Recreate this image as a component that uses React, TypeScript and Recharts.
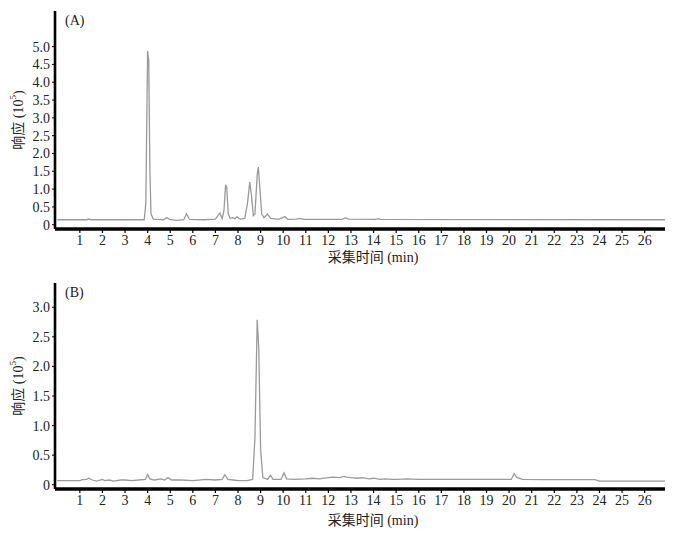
import React from 'react';
import { LineChart, Line, XAxis, YAxis, Label } from 'recharts';

const xTicks = [1, 2, 3, 4, 5, 6, 7, 8, 9, 10, 11, 12, 13, 14, 15, 16, 17, 18, 19, 20, 21, 22, 23, 24, 25, 26];
const yTicksA = [0, 0.5, 1.0, 1.5, 2.0, 2.5, 3.0, 3.5, 4.0, 4.5, 5.0];
const yTicksB = [0, 0.5, 1.0, 1.5, 2.0, 2.5, 3.0];

const timesA = [0, 1.3, 1.4, 1.5, 3.85, 3.92, 4.0, 4.05, 4.1, 4.15, 4.25, 4.7, 4.85, 5.0, 5.3, 5.6, 5.72, 5.85, 6.5, 7.0, 7.2, 7.3, 7.38, 7.45, 7.5, 7.57, 7.65, 7.76, 7.85, 7.95, 8.1, 8.3, 8.42, 8.52, 8.6, 8.68, 8.75, 8.85, 8.9, 8.97, 9.05, 9.15, 9.3, 9.45, 9.8, 10.08, 10.2, 10.6, 10.75, 10.9, 12.6, 12.75, 12.9, 14.1, 14.2, 14.3, 26.9];
const respA = [0.14, 0.14, 0.16, 0.14, 0.14, 0.6, 4.88, 4.6, 1.5, 0.3, 0.16, 0.14, 0.2, 0.14, 0.12, 0.14, 0.31, 0.15, 0.14, 0.16, 0.33, 0.17, 0.4, 1.12, 1.05, 0.3, 0.18, 0.2, 0.17, 0.22, 0.16, 0.18, 0.6, 1.2, 0.8, 0.25, 0.3, 1.4, 1.62, 1.0, 0.3, 0.2, 0.3, 0.18, 0.15, 0.23, 0.15, 0.16, 0.18, 0.15, 0.15, 0.19, 0.16, 0.15, 0.17, 0.15, 0.14];

const timesB = [0, 1.0, 1.1, 1.3, 1.4, 1.55, 1.75, 1.9, 2.0, 2.1, 2.3, 2.5, 2.8, 3.0, 3.3, 3.6, 3.9, 4.0, 4.1, 4.3, 4.6, 4.75, 4.9, 5.05, 5.5, 6.0, 6.6, 7.0, 7.3, 7.42, 7.55, 7.8, 8.0, 8.4, 8.65, 8.75, 8.85, 8.92, 9.0, 9.1, 9.3, 9.44, 9.55, 9.9, 10.04, 10.15, 10.5, 11.0, 11.3, 11.6, 12.0, 12.2, 12.5, 12.7, 12.8, 13.0, 13.3, 13.5, 13.8, 14.0, 14.3, 14.5, 14.8, 15.0, 15.5, 16.0, 17.0, 18.0, 19.0, 19.5, 20.1, 20.22, 20.35, 20.6, 21.5, 23.0, 23.8, 24.0, 26.9];
const respB = [0.07, 0.07, 0.085, 0.09, 0.11, 0.08, 0.06, 0.08, 0.09, 0.07, 0.08, 0.06, 0.08, 0.08, 0.07, 0.08, 0.09, 0.17, 0.1, 0.08, 0.1, 0.08, 0.12, 0.08, 0.08, 0.07, 0.09, 0.08, 0.09, 0.17, 0.09, 0.08, 0.07, 0.07, 0.09, 0.8, 2.79, 2.3, 0.6, 0.12, 0.09, 0.16, 0.09, 0.09, 0.2, 0.1, 0.09, 0.1, 0.11, 0.1, 0.12, 0.13, 0.12, 0.14, 0.13, 0.12, 0.11, 0.12, 0.1, 0.11, 0.09, 0.1, 0.09, 0.09, 0.1, 0.09, 0.09, 0.09, 0.09, 0.09, 0.09, 0.19, 0.12, 0.09, 0.085, 0.085, 0.085, 0.06, 0.06];

const dataA = timesA.map((t, i) => ({ t, v: respA[i] }));
const dataB = timesB.map((t, i) => ({ t, v: respB[i] }));

const FONT = 'Liberation Serif, DejaVu Serif, serif';
const CJK_FONT = 'Liberation Serif, Noto Sans CJK SC, serif';
const TXT = '#222';

const fmtY = (v: number) => (v === 0 ? '0' : v.toFixed(1));

type PanelProps = {
  data: { t: number; v: number }[];
  yDomain: [number, number];
  yTicks: number[];
  height: number;
  top: number;
  marginTop: number;
  xAxisHeight: number;
  xLabelOffset: number;
  letter: string;
};

const Panel = ({ data, yDomain, yTicks, height, top, marginTop, xAxisHeight, xLabelOffset, letter }: PanelProps) => (
  <div style={{ position: 'absolute', left: 0, top, width: 675, height }}>
    <LineChart
      width={675}
      height={height}
      data={data}
      margin={{ top: marginTop, right: 10, left: 0, bottom: 0 }}
      style={{ fontFamily: FONT }}
    >
      <XAxis
        dataKey="t"
        type="number"
        domain={[-0.1, 26.9]}
        ticks={xTicks}
        allowDataOverflow
        height={xAxisHeight}
        axisLine={{ stroke: '#000', strokeWidth: 3.5 }}
        tickLine={{ stroke: '#000', strokeWidth: 1.2 }}
        tickSize={4}
        tickMargin={2}
        tick={{ fill: TXT, fontSize: 14, fontFamily: FONT }}
        interval={0}
      >
        <Label
          content={(props: any) => {
            const vb = props.viewBox || {};
            return (
              <text
                x={vb.x + vb.width / 2 + 13}
                y={vb.y + xLabelOffset}
                textAnchor="middle"
                dominantBaseline="central"
                fill={TXT}
                fontSize={14}
                fontFamily={CJK_FONT}
              >
                采集时间 (min)
              </text>
            );
          }}
        />
      </XAxis>
      <YAxis
        type="number"
        domain={yDomain}
        ticks={yTicks}
        allowDataOverflow
        width={55}
        axisLine={{ stroke: '#000', strokeWidth: 2.6 }}
        tickLine={{ stroke: '#000', strokeWidth: 1 }}
        tickSize={3}
        tickMargin={2}
        tickFormatter={fmtY}
        tick={{ fill: TXT, fontSize: 14, fontFamily: FONT }}
        interval={0}
      >
        <Label
          content={(props: any) => {
            const vb = props.viewBox || {};
            const cx = 18;
            const cy = vb.y + vb.height / 2;
            return (
              <text
                x={cx}
                y={cy}
                transform={`rotate(-90 ${cx} ${cy})`}
                textAnchor="middle"
                dominantBaseline="central"
                fill={TXT}
                fontSize={14}
                fontFamily={CJK_FONT}
              >
                响应 (10
                <tspan dy={-5} fontSize={9}>5</tspan>
                <tspan dy={5}>)</tspan>
              </text>
            );
          }}
        />
      </YAxis>
      <Line
        type="linear"
        dataKey="v"
        stroke="#9a9a9a"
        strokeWidth={1.3}
        dot={false}
        isAnimationActive={false}
      />
    </LineChart>
    <div
      style={{
        position: 'absolute',
        left: 65,
        top: marginTop + 2,
        fontFamily: FONT,
        fontSize: 14,
        color: TXT,
        lineHeight: '16px',
      }}
    >
      {letter}
    </div>
  </div>
);

export default function App() {
  return (
    <div
      style={{
        position: 'absolute',
        left: 0,
        top: 0,
        width: 675,
        height: 533,
        overflow: 'hidden',
        background: '#fff',
      }}
    >
      <Panel
        data={dataA}
        yDomain={[-0.12, 6.0]}
        yTicks={yTicksA}
        height={270}
        top={0}
        marginTop={11}
        xAxisHeight={41}
        xLabelOffset={28}
        letter="(A)"
      />
      <Panel
        data={dataB}
        yDomain={[-0.072, 3.41]}
        yTicks={yTicksB}
        height={268}
        top={265}
        marginTop={18}
        xAxisHeight={44}
        xLabelOffset={31}
        letter="(B)"
      />
    </div>
  );
}
